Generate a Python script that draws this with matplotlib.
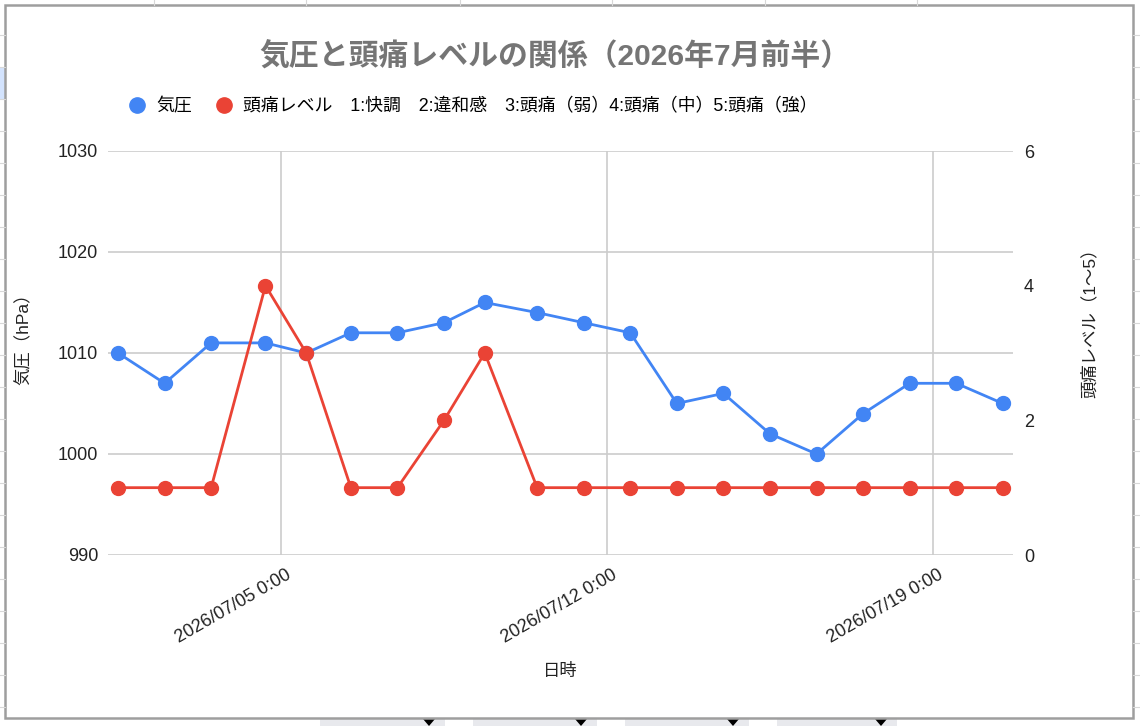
import matplotlib
matplotlib.use("Agg")
import matplotlib.pyplot as plt
import matplotlib.dates as mdates
import matplotlib.transforms as mtransforms
from matplotlib.lines import Line2D
from matplotlib.patches import Rectangle, Polygon
import pandas as pd

plt.rcParams['font.family'] = ['Liberation Sans', 'Noto Sans CJK JP', 'DejaVu Sans']

# data
times = pd.to_datetime([
    '2026-07-01 12:00', '2026-07-02 12:00', '2026-07-03 12:00', '2026-07-04 16:00',
    '2026-07-05 13:00', '2026-07-06 12:00', '2026-07-07 12:00', '2026-07-08 12:00',
    '2026-07-09 09:00', '2026-07-10 12:00', '2026-07-11 12:00', '2026-07-12 12:00',
    '2026-07-13 12:00', '2026-07-14 12:00', '2026-07-15 12:00', '2026-07-16 12:00',
    '2026-07-17 12:00', '2026-07-18 12:00', '2026-07-19 12:00', '2026-07-20 12:00',
])
pressure = [1010, 1007, 1011, 1011, 1010, 1012, 1012, 1013, 1015, 1014,
            1013, 1012, 1005, 1006, 1002, 1000, 1004, 1007, 1007, 1005]
headache = [1, 1, 1, 4, 3, 1, 1, 2, 3, 1,
            1, 1, 1, 1, 1, 1, 1, 1, 1, 1]
x_ticks = pd.to_datetime(['2026-07-05', '2026-07-12', '2026-07-19'])
left_ticks = [990, 1000, 1010, 1020, 1030]
right_ticks = [0, 2, 4, 6]

title = '気圧と頭痛レベルの関係（2026年7月前半）'
legend_labels = ['気圧', '頭痛レベル　1:快調　2:違和感　3:頭痛（弱）4:頭痛（中）5:頭痛（強）']

BLUE = '#4285F4'
RED = '#EA4335'
GRID = '#CCCCCC'

fig = plt.figure(figsize=(11.4, 7.26), dpi=100)

# spreadsheet behind the chart
for yy in range(35, 726, 32):
    fig.add_artist(Line2D([0, 5 / 1140], [1 - yy / 726] * 2, color='#D8D8D8', lw=0.8))
    fig.add_artist(Line2D([1133 / 1140, 1], [1 - yy / 726] * 2, color='#D8D8D8', lw=0.8))
fig.add_artist(Rectangle((0, 1 - 99 / 726), 5 / 1140, 32 / 726, color='#D3E3FD', lw=0))
for xx in [154, 306, 460, 612, 765, 917]:
    fig.add_artist(Line2D([xx / 1140] * 2, [1, 1 - 5 / 726], color='#D8D8D8', lw=0.8))
for x0, x1 in [(320, 445), (473, 597), (625, 749), (777, 897)]:
    fig.add_artist(Rectangle((x0 / 1140, 0), (x1 - x0) / 1140, 8 / 726, color='#E8E9ED', lw=0))
    cx = (x1 - 16) / 1140
    fig.add_artist(Polygon([[cx - 6 / 1140, 7 / 726], [cx + 6 / 1140, 7 / 726], [cx, 0]],
                           closed=True, color='black', lw=0))
fig.add_artist(Rectangle((5 / 1140, 8 / 726), 1128 / 1140, 713 / 726, fill=False,
                         edgecolor='#9E9E9E', lw=1.8))

ax = fig.add_axes([108 / 1140, 1 - 555 / 726, 905 / 1140, 404 / 726])
ax2 = ax.twinx()

ax.plot(times, pressure, color=BLUE, lw=2, marker='o', markersize=10, label=legend_labels[0])
ax2.plot(times, headache, color=RED, lw=2, marker='o', markersize=10, label=legend_labels[1])

ax.set_xlim(pd.Timestamp('2026-07-01 06:50'), pd.Timestamp('2026-07-20 17:15'))
ax.set_ylim(990, 1030)
ax2.set_ylim(0, 6)
ax.set_yticks(left_ticks)
ax2.set_yticks(right_ticks)
ax.set_xticks(x_ticks)
ax.xaxis.set_major_formatter(mdates.DateFormatter('%Y/%m/%d 0:00'))

ax.grid(True, color=GRID, lw=1.2)
ax.set_axisbelow(True)
for a in (ax, ax2):
    for s in a.spines.values():
        s.set_visible(False)
ax.tick_params(axis='both', length=0, labelsize=13, colors='#222222')
ax.tick_params(axis='y', pad=7)
ax.tick_params(axis='x', pad=8)
ax2.tick_params(axis='y', length=0, labelsize=13, colors='#222222', pad=8)
shift = mtransforms.ScaledTranslation(5 / 100, 0, fig.dpi_scale_trans)
for lbl in ax.get_xticklabels():
    lbl.set_rotation(30)
    lbl.set_ha('right')
    lbl.set_rotation_mode('anchor')
    lbl.set_transform(lbl.get_transform() + shift)

ax.set_xlabel('日時', fontsize=12.5, color='#222222', labelpad=12)
ax.set_ylabel('気圧（hPa）', fontsize=12.5, color='#222222')
ax2.set_ylabel('頭痛レベル（1〜5）', fontsize=12.5, color='#222222', rotation=90)
ax.yaxis.set_label_coords(-76 / 905, 0.545)
ax2.yaxis.set_label_coords(1 + 68 / 905, 0.585)

fig.text(555 / 1140, 1 - 57 / 726, title, fontsize=21.5, fontweight='bold',
         color='#757575', ha='center', va='center')

handles = [Line2D([], [], color=BLUE, marker='o', markersize=11, linestyle='none'),
           Line2D([], [], color=RED, marker='o', markersize=11, linestyle='none')]
fig.legend(handles, legend_labels, loc='center left', ncol=2, frameon=False,
           bbox_to_anchor=(112 / 1140, 1 - 107 / 726), fontsize=12.9,
           handlelength=1.0, handletextpad=0.55, columnspacing=1.3)

fig.savefig('out.png', dpi=100)
